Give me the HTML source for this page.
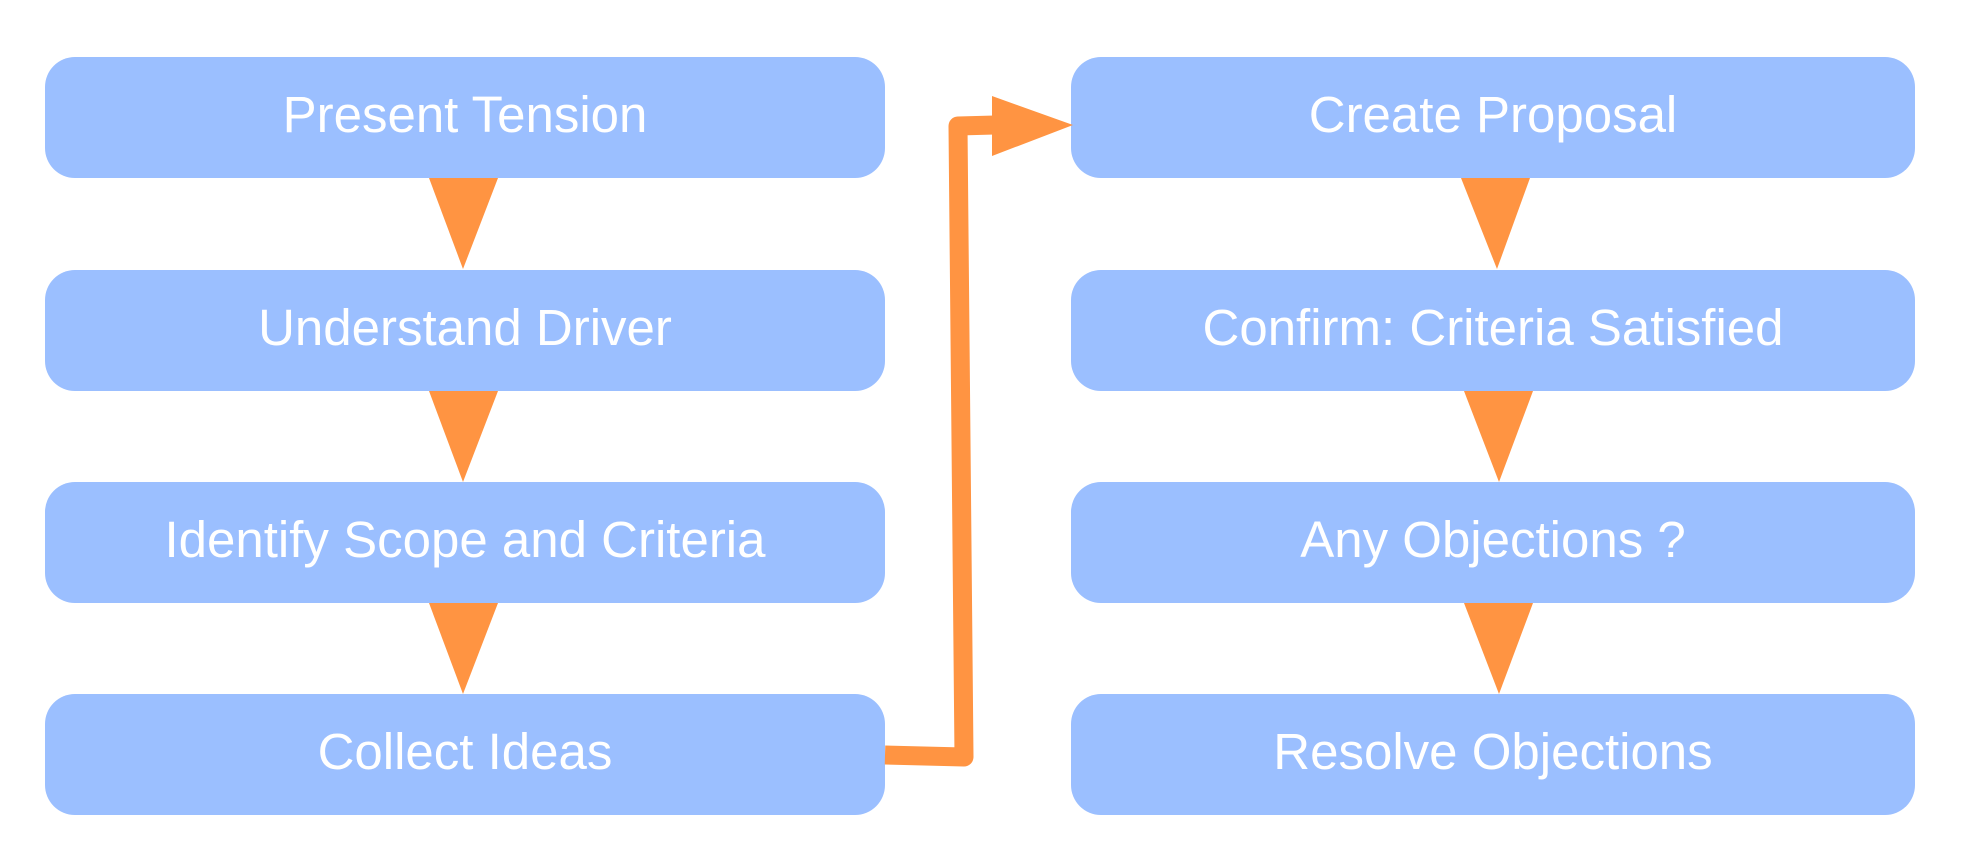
<!DOCTYPE html>
<html><head><style>
body{margin:0;width:1963px;height:855px;background:#fff;overflow:hidden;position:relative;font-family:"Liberation Sans",sans-serif}
.b{position:absolute;background:#9bbfff;border-radius:30px;color:#fff;font-size:51px;display:flex;align-items:center;justify-content:center;height:115px;padding-bottom:6px;white-space:nowrap}
.l{left:45px;width:840px}.r{left:1071px;width:844px}
svg{position:absolute;left:0;top:0}
</style></head><body>
<div class="b l" style="top:57px">Present Tension</div>
<div class="b l" style="top:270px">Understand Driver</div>
<div class="b l" style="top:482px">Identify Scope and Criteria</div>
<div class="b l" style="top:694px">Collect Ideas</div>
<div class="b r" style="top:57px">Create Proposal</div>
<div class="b r" style="top:270px">Confirm: Criteria Satisfied</div>
<div class="b r" style="top:482px">Any Objections ?</div>
<div class="b r" style="top:694px">Resolve Objections</div>
<svg width="1963" height="855">
<g fill="#ff9442">
<polygon points="429,178 498,178 463,269"/>
<polygon points="429,391 498,391 463,482"/>
<polygon points="429,603 498,603 463,694"/>
<polygon points="1461,178 1530,178 1497,269"/>
<polygon points="1464,391 1533,391 1499,482"/>
<polygon points="1464,603 1533,603 1499,694"/>
<polygon points="992,96 1073,125 992,156"/>
</g>
<polyline points="885,755 964,757 958,126 995,125" fill="none" stroke="#ff9442" stroke-width="19" stroke-linejoin="round"/>
</svg>
</body></html>
